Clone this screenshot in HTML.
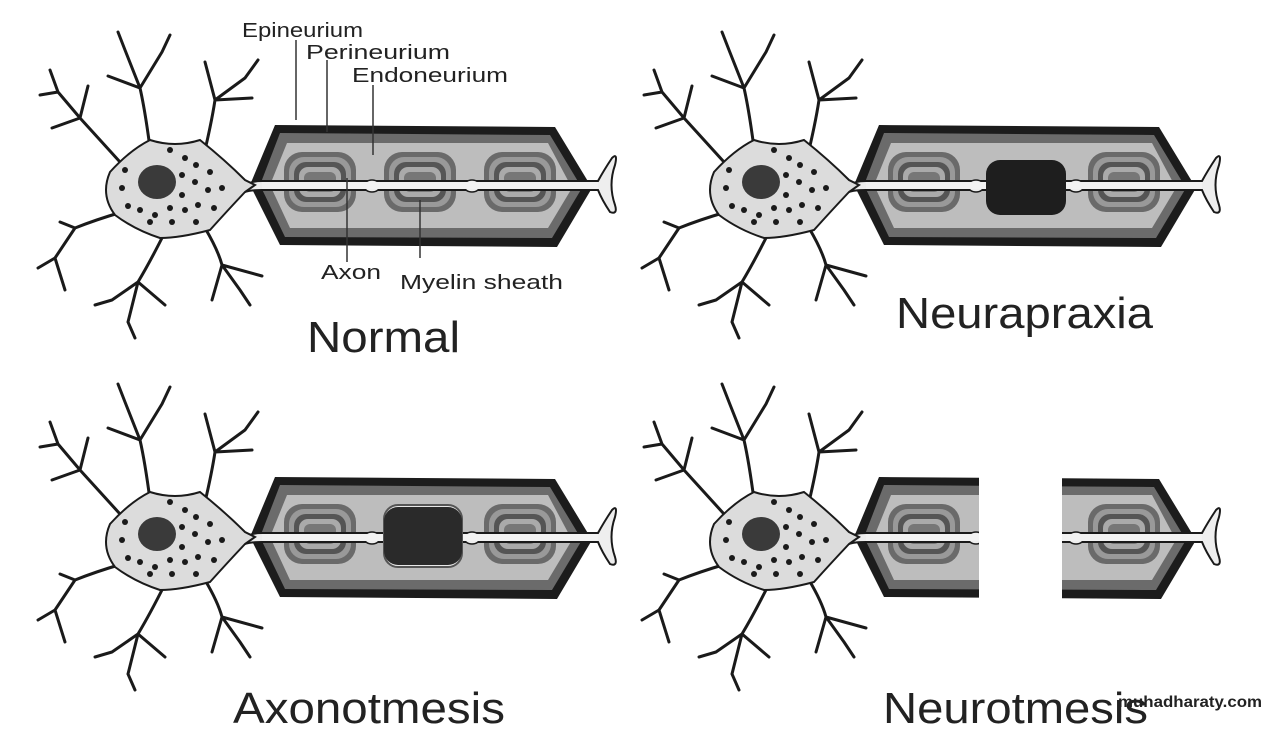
<!DOCTYPE html>
<html><head><meta charset="utf-8"><style>
html,body{margin:0;padding:0;background:#fff;}
svg{display:block;}
text{font-family:"Liberation Sans",sans-serif;fill:#222;}
</style></head><body>
<svg width="1269" height="742" viewBox="0 0 1269 742" xmlns="http://www.w3.org/2000/svg">
<defs>
<g id="cell">
 <g stroke="#1a1a1a" stroke-width="3" fill="none" stroke-linecap="round">
  <path d="M120 162 L80 118 L58 92 M80 118 L88 86 M80 118 L52 128 M58 92 L50 70 M58 92 L40 95"/>
  <path d="M150 148 Q145 110 140 88 L125 50 M140 88 L162 52 M140 88 L108 76 M125 50 L118 32 M162 52 L170 35"/>
  <path d="M205 150 Q212 120 215 100 L205 62 M215 100 L245 78 M215 100 L252 98 M245 78 L258 60"/>
  <path d="M122 212 Q95 220 75 228 L55 258 M75 228 L60 222 M55 258 L65 290 M55 258 L38 268"/>
  <path d="M165 232 Q150 262 138 282 L112 300 M138 282 L128 322 M138 282 L165 305 M112 300 L95 305 M128 322 L135 338"/>
  <path d="M205 228 Q218 250 222 265 L240 290 M222 265 L262 276 M222 265 L212 300 M240 290 L250 305"/>
 </g>
 <path d="M110 172 Q130 150 150 140 Q175 148 200 140 Q225 160 245 180 L255 185 L245 192 Q228 210 210 230 Q180 238 160 238 Q135 230 115 215 Q100 195 110 172 Z" fill="#dcdcdc" stroke="#1a1a1a" stroke-width="2"/>
 <ellipse cx="157" cy="182" rx="19" ry="17" fill="#3a3a3a"/>
 <g fill="#1a1a1a">
  <circle cx="125" cy="170" r="3"/><circle cx="122" cy="188" r="3"/><circle cx="128" cy="206" r="3"/>
  <circle cx="140" cy="210" r="3"/><circle cx="155" cy="215" r="3"/><circle cx="170" cy="208" r="3"/>
  <circle cx="185" cy="210" r="3"/><circle cx="198" cy="205" r="3"/><circle cx="185" cy="158" r="3"/>
  <circle cx="196" cy="165" r="3"/><circle cx="182" cy="175" r="3"/><circle cx="195" cy="182" r="3"/>
  <circle cx="210" cy="172" r="3"/><circle cx="208" cy="190" r="3"/><circle cx="182" cy="195" r="3"/>
  <circle cx="170" cy="150" r="3"/><circle cx="222" cy="188" r="3"/><circle cx="150" cy="222" r="3"/>
  <circle cx="172" cy="222" r="3"/><circle cx="196" cy="222" r="3"/><circle cx="214" cy="208" r="3"/>
 </g>
</g>
<g id="fasc">
 <rect x="0" y="0" width="72" height="60" rx="18" fill="#6a6a6a"/>
 <rect x="5" y="5" width="62" height="50" rx="15" fill="#999"/>
 <rect x="10" y="10" width="52" height="40" rx="12" fill="#555"/>
 <rect x="15" y="15" width="42" height="30" rx="9" fill="#aaa"/>
 <rect x="20" y="20" width="32" height="20" rx="6" fill="#777"/>
</g>
<g id="tube">
 <path d="M275 125 L555 127 L592 188 L557 247 L280 245 L250 185 Z" fill="#1c1c1c"/>
 <path d="M280 133 L550 135 L582 188 L552 238 L285 237 L260 185 Z" fill="#6b6b6b"/>
 <path d="M287 143 L548 143 L572 188 L548 228 L290 228 L270 185 Z" fill="#bdbdbd"/>
</g>
<g id="axon">
 <path d="M245 186 Q250 181 262 181 L598 181 Q604 170 612 158 Q618 152 615 165 Q608 185 615 205 Q618 215 610 212 Q602 200 598 190 L262 190 Q250 190 245 192 Z" fill="#eee" stroke="#1a1a1a" stroke-width="2"/>
 <ellipse cx="372" cy="186" rx="8" ry="6" fill="#eee" stroke="#1a1a1a" stroke-width="1.5"/>
 <ellipse cx="472" cy="186" rx="8" ry="6" fill="#eee" stroke="#1a1a1a" stroke-width="1.5"/>
 <rect x="262" y="182" width="336" height="7" fill="#f2f2f2"/>
</g>
</defs>

<!-- Normal -->
<g>
 <use href="#tube"/>
 <use href="#fasc" x="284" y="152"/><use href="#fasc" x="384" y="152"/><use href="#fasc" x="484" y="152"/>
 <use href="#axon"/>
 <use href="#cell"/>
 <g stroke="#333" stroke-width="1.5">
  <line x1="296" y1="40" x2="296" y2="120"/><line x1="327" y1="60" x2="327" y2="132"/><line x1="373" y1="85" x2="373" y2="155"/>
  <line x1="347" y1="178" x2="347" y2="262"/><line x1="420" y1="200" x2="420" y2="258"/>
 </g>
 <text x="242" y="37" font-size="20" textLength="121" lengthAdjust="spacingAndGlyphs">Epineurium</text>
 <text x="306" y="59" font-size="20" textLength="144" lengthAdjust="spacingAndGlyphs">Perineurium</text>
 <text x="352" y="82" font-size="20" textLength="156" lengthAdjust="spacingAndGlyphs">Endoneurium</text>
 <text x="321" y="279" font-size="20" textLength="60" lengthAdjust="spacingAndGlyphs">Axon</text>
 <text x="400" y="289" font-size="20" textLength="163" lengthAdjust="spacingAndGlyphs">Myelin sheath</text>
 <text x="307" y="352" font-size="44" textLength="153" lengthAdjust="spacingAndGlyphs">Normal</text>
</g>

<!-- Neurapraxia -->
<g transform="translate(604,0)">
 <use href="#tube"/>
 <use href="#fasc" x="284" y="152"/><use href="#fasc" x="484" y="152"/>
 <use href="#axon"/>
 <rect x="382" y="160" width="80" height="55" rx="14" fill="#1e1e1e"/>
 <use href="#cell"/>
 <text x="292" y="328" font-size="44" textLength="257" lengthAdjust="spacingAndGlyphs">Neurapraxia</text>
</g>

<!-- Axonotmesis -->
<g transform="translate(0,352)">
 <use href="#tube"/>
 <use href="#fasc" x="284" y="152"/><use href="#fasc" x="484" y="152"/>
 <use href="#axon"/>
 <rect x="384" y="153" width="78" height="62" rx="14" fill="#e8e8e8" stroke="#555" stroke-width="2"/>
 <rect x="384" y="155" width="78" height="58" rx="14" fill="#2a2a2a"/>
 <use href="#cell"/>
 <text x="233" y="371" font-size="44" textLength="272" lengthAdjust="spacingAndGlyphs">Axonotmesis</text>
</g>

<!-- Neurotmesis -->
<g transform="translate(604,352)">
 <clipPath id="cl"><rect x="200" y="100" width="175" height="160"/><rect x="458" y="100" width="200" height="160"/></clipPath>
 <g clip-path="url(#cl)">
  <use href="#tube"/>
  <use href="#fasc" x="284" y="152"/><use href="#fasc" x="484" y="152"/>
  <use href="#axon"/>
 </g>
 <use href="#cell"/>
 <text x="279" y="371" font-size="44" textLength="265" lengthAdjust="spacingAndGlyphs">Neurotmesis</text>
</g>
<text x="1118" y="707" font-size="16" font-weight="bold" fill="#333" textLength="144" lengthAdjust="spacingAndGlyphs">muhadharaty.com</text>
</svg>
</body></html>
